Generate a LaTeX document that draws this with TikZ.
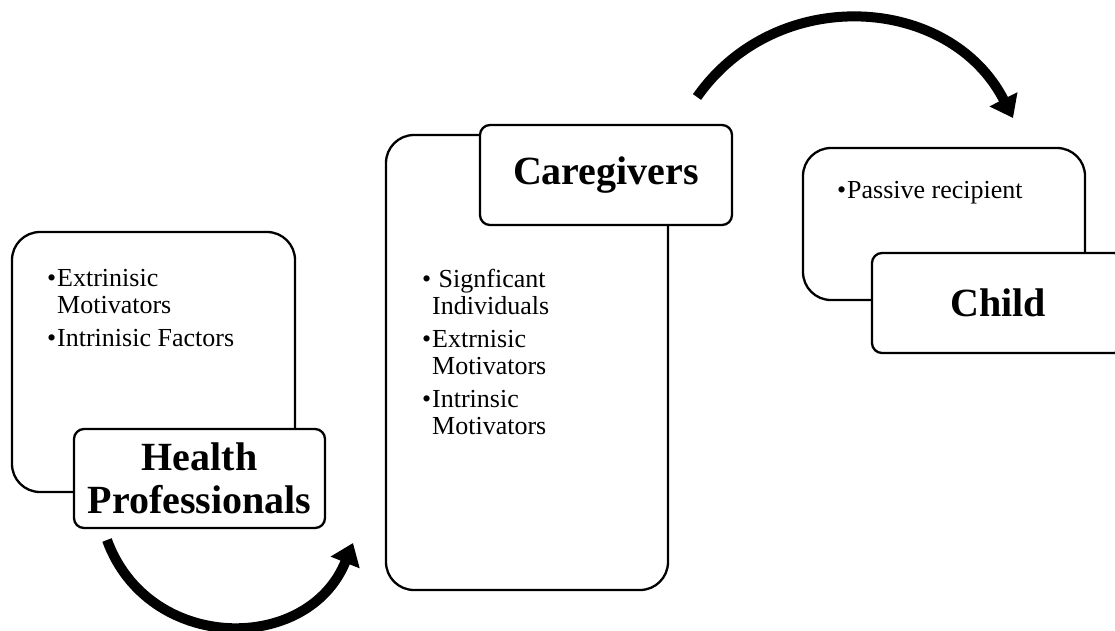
\documentclass[tikz,border=0pt]{standalone}
\usepackage{fontspec}
\setmainfont{Liberation Serif}
\usetikzlibrary{arrows.meta}

\newcommand{\bul}{\makebox[10pt][l]{\textbullet}}
\newcommand{\hang}{\hspace*{10pt}}

\begin{document}
\begin{tikzpicture}[
        x=1pt, y=1pt,
        panel/.style={draw, line width=2.3pt, rounded corners=28pt, fill=white, inner sep=0pt},
        tag/.style={draw, line width=2.3pt, rounded corners=10pt, fill=white, align=center, minimum width=251pt, minimum height=99pt, font=\fontsize{40}{43}\selectfont\bfseries},
        items/.style={align=left, inner sep=0pt, anchor=base west, font=\fontsize{26}{27}\selectfont},
        flow/.style={line width=10pt, -{Triangle[length=21pt, width=30pt]}}
    ]
    \useasboundingbox (0,0) rectangle (1115,-630);

    % health professionals
    \node[panel, minimum width=283pt, minimum height=260pt] (hpPanel) at (153.5,-362) {};
    \node[items] (hpList) at (47,-346) {\bul Extrinisic\\\hang Motivators\\[6pt]\bul Intrinisic Factors};
    \node[tag] (hp) at (199.5,-478.5) {Health\\Professionals};

    % caregivers
    \node[panel, minimum width=282pt, minimum height=455pt] (cgPanel) at (527,-362.5) {};
    \node[items] (cgList) at (422,-434) {\bul\ Signficant\\\hang Individuals\\[6pt]\bul Extrnisic\\\hang Motivators\\[6pt]\bul Intrinsic\\\hang Motivators};
    \node[tag, minimum width=252pt, minimum height=100pt] (cg) at (606,-175) {Caregivers};

    % child
    \node[panel, minimum width=282pt, minimum height=152pt] (chPanel) at (944,-224) {};
    \node[items] (chList) at (837,-198) {\bul Passive recipient};
    \node[tag, minimum width=252pt, minimum height=100pt] (ch) at (998,-303) {Child};

    \coordinate (hpOut) at (107,-540);
    \coordinate (cgIn) at (353,-543);
    \coordinate (cgOut) at (697,-97);
    \coordinate (chIn) at (1013,-118);
    \draw[flow] (hpOut) to[out=-70, in=-112, looseness=1.25] (cgIn);
    \draw[flow] (cgOut) to[out=55, in=117, looseness=1.12] (chIn);
\end{tikzpicture}
\end{document}
